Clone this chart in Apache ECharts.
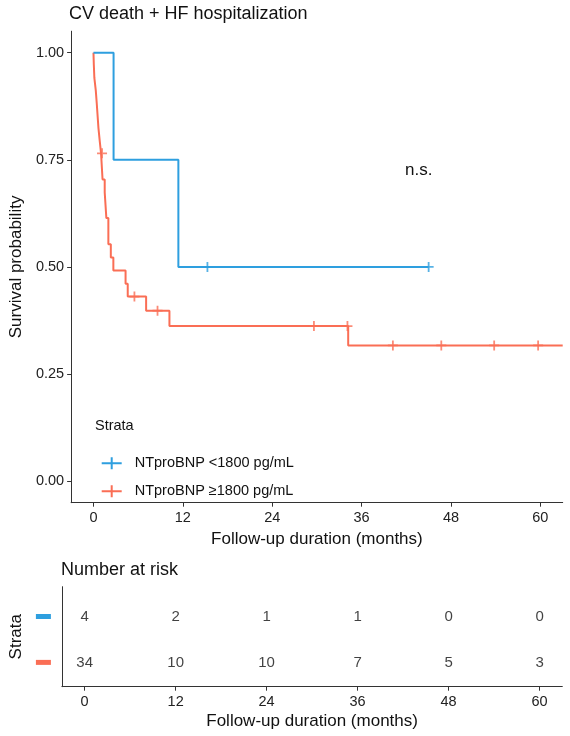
<!DOCTYPE html>
<html>
<head>
<meta charset="utf-8">
<script src="https://cdn.jsdelivr.net/npm/echarts@6/dist/echarts.min.js"></script>
<style>
  html, body { margin: 0; padding: 0; background: #fff; }
  #main { width: 570px; height: 736px; }
</style>
</head>
<body>
<div id="main"></div>
<script>
// 刻度
const timeTicks = [0, 12, 24, 36, 48, 60];
const probTicks = [0, 0.25, 0.5, 0.75, 1];
const strata = ['NTproBNP <1800 pg/mL', 'NTproBNP ≥1800 pg/mL'];
const colors = ['#2E9FDF', '#FA6E55'];

// KM 曲线 (从图上读取的阶梯)
const lowTime = [0, 2.7, 11.4, 45];
const lowSurv = [1, 0.75, 0.5, 0.5];
const lowCensor = [15.3, 45];

const highTime = [0, 0.05, 0.12, 0.31, 0.44, 0.67, 0.84, 1.02, 1.22, 1.51, 1.73, 2.0, 2.33, 2.67, 4.31, 4.6, 7.07, 10.2, 34.2, 63];
const highSurv = [1, 0.971, 0.941, 0.912, 0.882, 0.824, 0.794, 0.765, 0.704, 0.674, 0.614, 0.553, 0.522, 0.492, 0.461, 0.431, 0.398, 0.362, 0.317, 0.317];
const highCensor = [1.15, 5.5, 8.6, 29.6, 34.1, 40.2, 46.7, 53.8, 59.7];

// Number at risk
const lowRisk = [4, 2, 1, 1, 0, 0];
const highRisk = [34, 10, 10, 7, 5, 3];

const font = 'Liberation Sans, Arial, sans-serif';
const plusIcon = 'path://M0,5H20V7H0Z M9,0H11V12H9Z';
const censorIcon = 'path://M0,4.1H10V5.9H0Z M4.1,0H5.9V10H4.1Z';

/**
 * 阶梯函数取值
 */
function survAt(times, survs, t) {
  let s = survs[0];
  for (let i = 0; i < times.length; i++) {
    if (times[i] <= t) s = survs[i];
  }
  return s;
}

function stepData(times, survs) {
  return times.map((t, i) => [t, survs[i]]);
}

function censorData(times, survs, cens) {
  return cens.map(t => [t, survAt(times, survs, t)]);
}

function riskData(row, counts) {
  return timeTicks.map((t, i) => [t, row, counts[i]]);
}

const axisLine = { show: true, onZero: false, lineStyle: { color: '#333', width: 1 } };
const tickLabel = { color: '#222', fontSize: 14.5, fontFamily: font };
const nameStyle = { color: '#111', fontSize: 17, fontFamily: font };

let myChart = echarts.init(document.getElementById('main'));
myChart.setOption({
  animation: false,
  backgroundColor: '#fff',
  title: [
    { text: 'CV death + HF hospitalization', left: 69, top: 5, padding: 0,
      textStyle: { fontSize: 18, fontWeight: 'normal', color: '#111', fontFamily: font } },
    { text: 'Number at risk', left: 61, top: 561, padding: 0,
      textStyle: { fontSize: 18, fontWeight: 'normal', color: '#111', fontFamily: font } },
    { text: 'Strata', left: 95, top: 418, padding: 0,
      textStyle: { fontSize: 14.5, fontWeight: 'normal', color: '#111', fontFamily: font } },
    { text: 'n.s.', left: 405, top: 162, padding: 0,
      textStyle: { fontSize: 17, fontWeight: 'normal', color: '#111', fontFamily: font } },
  ],
  legend: {
    data: strata,
    orient: 'vertical',
    left: 96.7,
    top: 450.7,
    icon: plusIcon,
    itemWidth: 20,
    itemHeight: 12,
    itemGap: 13,
    selectedMode: false,
    textStyle: { fontSize: 14.5, color: '#111', fontFamily: font, padding: [0, 0, 0, 8] },
  },
  grid: [
    { left: 68.3, right: 7.3, top: 31.2, bottom: 233.3 },
    { left: 60.7, right: 7.7, top: 586.7, bottom: 49.3 },
  ],
  xAxis: [
    {
      gridIndex: 0, type: 'value', min: -3, max: 63,
      name: 'Follow-up duration (months)', nameLocation: 'middle', nameGap: 26, nameTextStyle: nameStyle,
      axisLine: axisLine,
      axisTick: { customValues: timeTicks, length: 4, lineStyle: { color: '#333' } },
      axisLabel: Object.assign({ customValues: timeTicks, margin: 8 }, tickLabel),
      splitLine: { show: false },
    },
    {
      gridIndex: 1, type: 'value', min: -3, max: 63,
      name: 'Follow-up duration (months)', nameLocation: 'middle', nameGap: 26, nameTextStyle: nameStyle,
      axisLine: axisLine,
      axisTick: { customValues: timeTicks, length: 4, lineStyle: { color: '#333' } },
      axisLabel: Object.assign({ customValues: timeTicks, margin: 8 }, tickLabel),
      splitLine: { show: false },
    },
  ],
  yAxis: [
    {
      gridIndex: 0, type: 'value', min: -0.05, max: 1.05,
      name: 'Survival probability', nameLocation: 'middle', nameGap: 38, nameTextStyle: nameStyle,
      axisLine: axisLine,
      axisTick: { show: true, customValues: probTicks, length: 4, lineStyle: { color: '#333' } },
      axisLabel: Object.assign({ customValues: probTicks, margin: 7, formatter: v => v.toFixed(2) }, tickLabel),
      splitLine: { show: false },
    },
    {
      gridIndex: 1, type: 'value', min: 0.47, max: 2.65,
      name: 'Strata', nameLocation: 'middle', nameGap: 32, nameTextStyle: nameStyle,
      axisLine: axisLine,
      axisTick: { show: false },
      axisLabel: {
        customValues: [1, 2],
        margin: 11,
        formatter: v => (v === 2 ? '{low|}' : '{high|}'),
        rich: {
          low: { width: 15, height: 5, backgroundColor: colors[0] },
          high: { width: 15, height: 5, backgroundColor: colors[1] },
        },
      },
      splitLine: { show: false },
    },
  ],
  series: [
    {
      name: strata[0], type: 'line', step: 'end', xAxisIndex: 0, yAxisIndex: 0,
      data: stepData(lowTime, lowSurv), showSymbol: false, symbol: censorIcon,
      color: colors[0], lineStyle: { width: 2, color: colors[0] }, z: 3,
    },
    {
      name: strata[1], type: 'line', step: 'end', xAxisIndex: 0, yAxisIndex: 0,
      data: stepData(highTime, highSurv), showSymbol: false, symbol: censorIcon,
      color: colors[1], lineStyle: { width: 2, color: colors[1] }, z: 2,
    },
    {
      name: 'lowCensor', type: 'scatter', xAxisIndex: 0, yAxisIndex: 0,
      data: censorData(lowTime, lowSurv, lowCensor), symbol: censorIcon, symbolSize: 10,
      itemStyle: { color: colors[0] }, z: 4,
    },
    {
      name: 'highCensor', type: 'scatter', xAxisIndex: 0, yAxisIndex: 0,
      data: censorData(highTime, highSurv, highCensor), symbol: censorIcon, symbolSize: 10,
      itemStyle: { color: colors[1] }, z: 4,
    },
    {
      name: 'lowRisk', type: 'scatter', xAxisIndex: 1, yAxisIndex: 1,
      data: riskData(2, lowRisk), symbolSize: 1, itemStyle: { color: 'rgba(0,0,0,0)' },
      label: { show: true, position: 'inside', formatter: p => p.value[2], fontSize: 15, color: '#111', fontFamily: font },
    },
    {
      name: 'highRisk', type: 'scatter', xAxisIndex: 1, yAxisIndex: 1,
      data: riskData(1, highRisk), symbolSize: 1, itemStyle: { color: 'rgba(0,0,0,0)' },
      label: { show: true, position: 'inside', formatter: p => p.value[2], fontSize: 15, color: '#111', fontFamily: font },
    },
  ],
});
</script>
</body>
</html>
